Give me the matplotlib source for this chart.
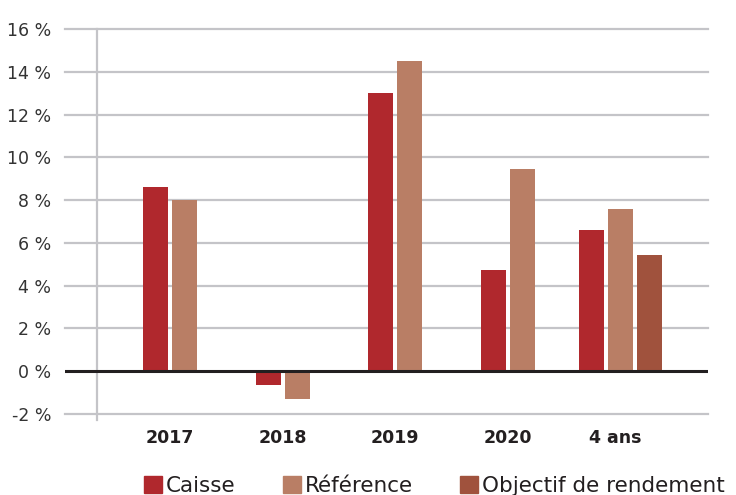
import numpy as np
import matplotlib
matplotlib.use("Agg")
import matplotlib.pyplot as plt

categories = ["2017", "2018", "2019", "2020", "4 ans"]
caisse = [8.6, -0.65, 13.0, 4.75, 6.6]
reference = [8.0, -1.3, 14.5, 9.45, 7.6]
objectif = [None, None, None, None, 5.45]
yticks = [-2, 0, 2, 4, 6, 8, 10, 12, 14, 16]

C_CAISSE = "#B0282D"
C_REF = "#B97E65"
C_OBJ = "#A0523D"
GRID = "#C4C4C8"

plt.rcParams["font.family"] = ["DejaVu Sans"]

fig = plt.figure(figsize=(7.36, 4.95), dpi=100)
ax = fig.add_axes([65 / 736, 81 / 495, 643 / 736, 385 / 495])

x = np.arange(len(categories))
w = 25 / 112.5
pitch = 29 / 112.5

for i, cat in enumerate(categories):
    vals = [(caisse[i], C_CAISSE), (reference[i], C_REF)]
    if objectif[i] is not None:
        vals.append((objectif[i], C_OBJ))
    n = len(vals)
    offs = (np.arange(n) - (n - 1) / 2) * pitch
    for (v, c), o in zip(vals, offs):
        ax.bar(x[i] + o, v, width=w, color=c, zorder=3)

ax.set_xlim((65 - 170) / 112.5, (708 - 170) / 112.5)
ax.set_ylim(-2, 16)

for t in yticks:
    if t == 0:
        continue
    ax.axhline(t, color=GRID, lw=1.6, zorder=1, clip_on=False)
ax.axhline(0, color="#231F20", lw=2.2, zorder=4)

# vertical axis line
vx = (97 - 170) / 112.5
ax.plot([vx, vx], [-2.3, 16], color=GRID, lw=1.6, zorder=1, clip_on=False)

for s in ax.spines.values():
    s.set_visible(False)

ax.set_yticks(yticks)
ax.set_yticklabels([f"{t} %" for t in yticks], fontsize=12.5, color="#333333")
ax.tick_params(axis="y", length=0, pad=10)
ax.set_xticks([])

for i, cat in enumerate(categories):
    ax.text(x[i] - (0.04 if i == 4 else 0), -3.1, cat, ha="center", va="center",
            fontsize=12.5, fontweight="bold", color="#231F20")

handles = [plt.Rectangle((0, 0), 1, 1, color=c) for c in (C_CAISSE, C_REF, C_OBJ)]
fig.legend(handles, ["Caisse", "Référence", "Objectif de rendement"],
           loc="center left", bbox_to_anchor=(144 / 736, 1 - 486 / 495), ncol=3,
           frameon=False, fontsize=15.5, handlelength=0.82, handleheight=0.82,
           handletextpad=0.2, columnspacing=2.2, borderpad=0, borderaxespad=0,
           labelcolor="#231F20")

fig.savefig("out.png", dpi=100)
